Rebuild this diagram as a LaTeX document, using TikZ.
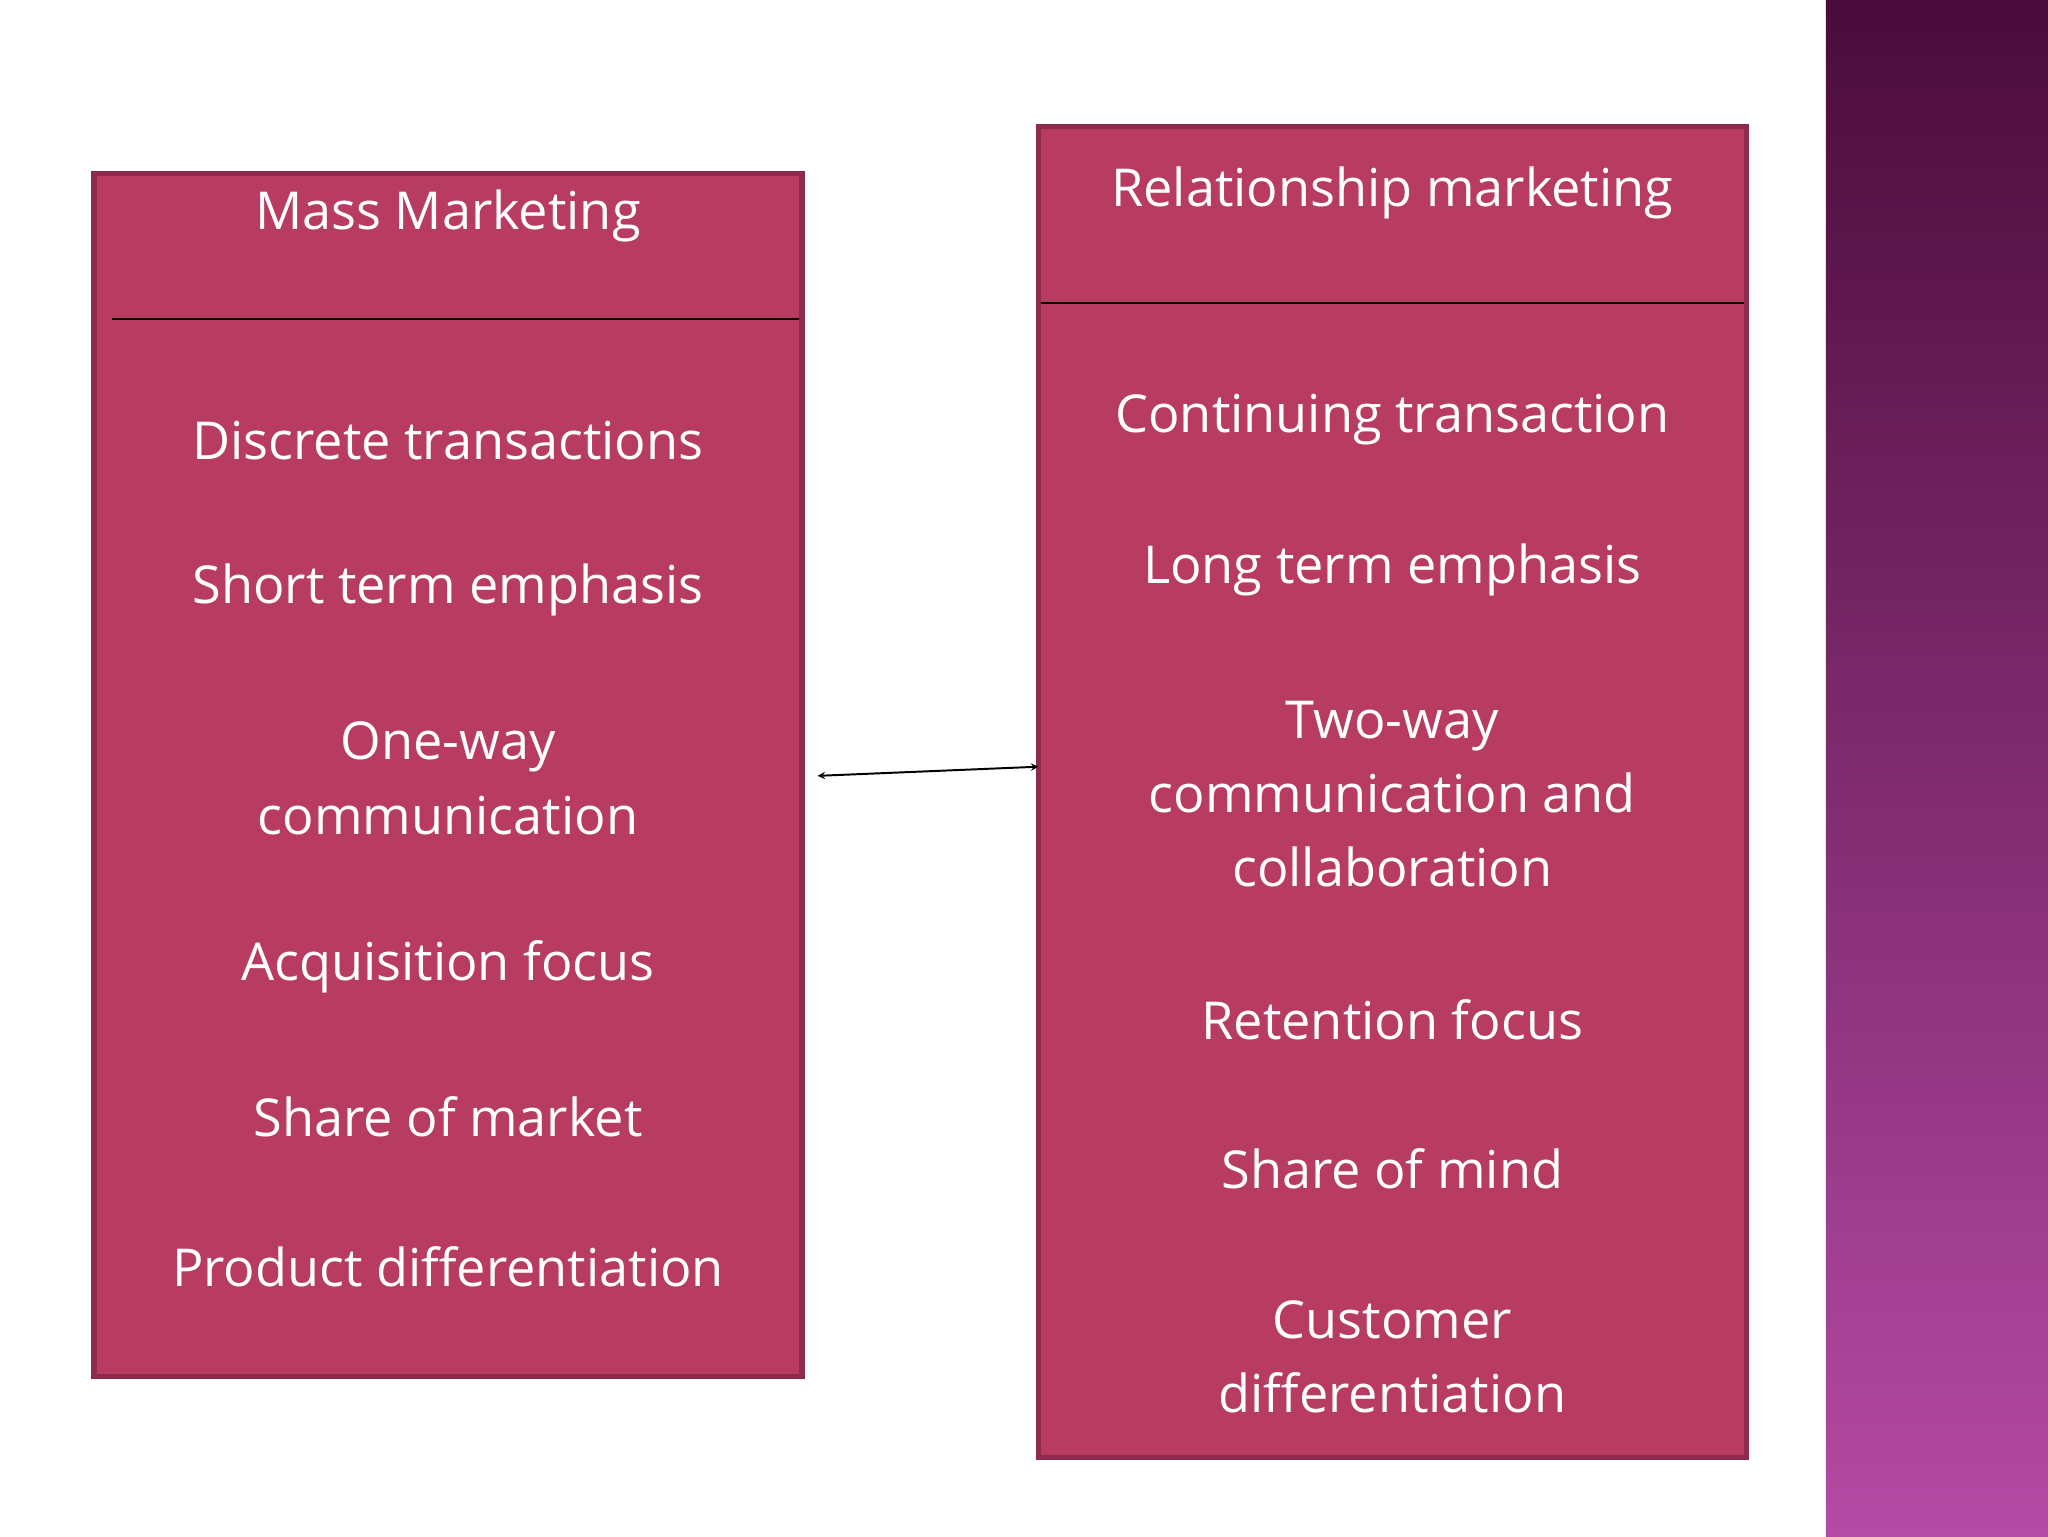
\documentclass[tikz,border=0pt]{standalone}
\usepackage{fontspec}
\setmainfont{Open Sans}
\definecolor{boxfill}{HTML}{B83C62}
\definecolor{boxedge}{HTML}{8E2A4E}
\definecolor{bandtop}{HTML}{4A0C3A}
\definecolor{bandbot}{HTML}{B54AA4}
\begin{document}
\begin{tikzpicture}[x=1pt,y=-1pt,
  panel/.style={draw=boxedge,line width=4pt,fill=boxfill},
  lbl/.style={text=white,font=\fontsize{40}{57}\selectfont,align=center,inner sep=0pt}]
\useasboundingbox (0,0) rectangle (1568,1176);
\fill[white] (0,0) rectangle (1568,1176);
\shade[top color=bandtop,bottom color=bandbot] (1398,0) rectangle (1568,1176);
\node[panel,minimum width=542pt,minimum height=921pt,inner sep=0pt] (L) at (343,593.5) {};
\node[panel,minimum width=542pt,minimum height=1019pt,inner sep=0pt] (R) at (1066,606.5) {};
\draw[line width=1.5pt] (86,244) -- (612,244);
\draw[line width=1.5pt] (797,232) -- (1335,232);
\node[lbl] (l0) at (343,165) {Mass Marketing};
\node[lbl] (l1) at (343,337) {Discrete transactions};
\node[lbl] (l2) at (343,452) {Short term emphasis};
\node[lbl] (l3) at (343,596) {One-way\\communication};
\node[lbl] (l4) at (343,740) {Acquisition focus};
\node[lbl] (l5) at (343,855) {Share of market};
\node[lbl] (l6) at (343,970) {Product differentiation};
\node[lbl] (r0) at (1066,148) {Relationship marketing};
\node[lbl] (r1) at (1066,321) {Continuing transaction};
\node[lbl] (r2) at (1066,436) {Long term emphasis};
\node[lbl] (r3) at (1066,608) {Two-way\\communication and\\collaboration};
\node[lbl] (r4) at (1066,781) {Retention focus};
\node[lbl] (r5) at (1066,895) {Share of mind};
\node[lbl] (r6) at (1066,1039) {Customer\\differentiation};
\coordinate (a1) at (626,594);
\coordinate (a2) at (795,587);
\draw[<->,line width=1.5pt,>=stealth] (a1) -- (a2);
\end{tikzpicture}
\end{document}
